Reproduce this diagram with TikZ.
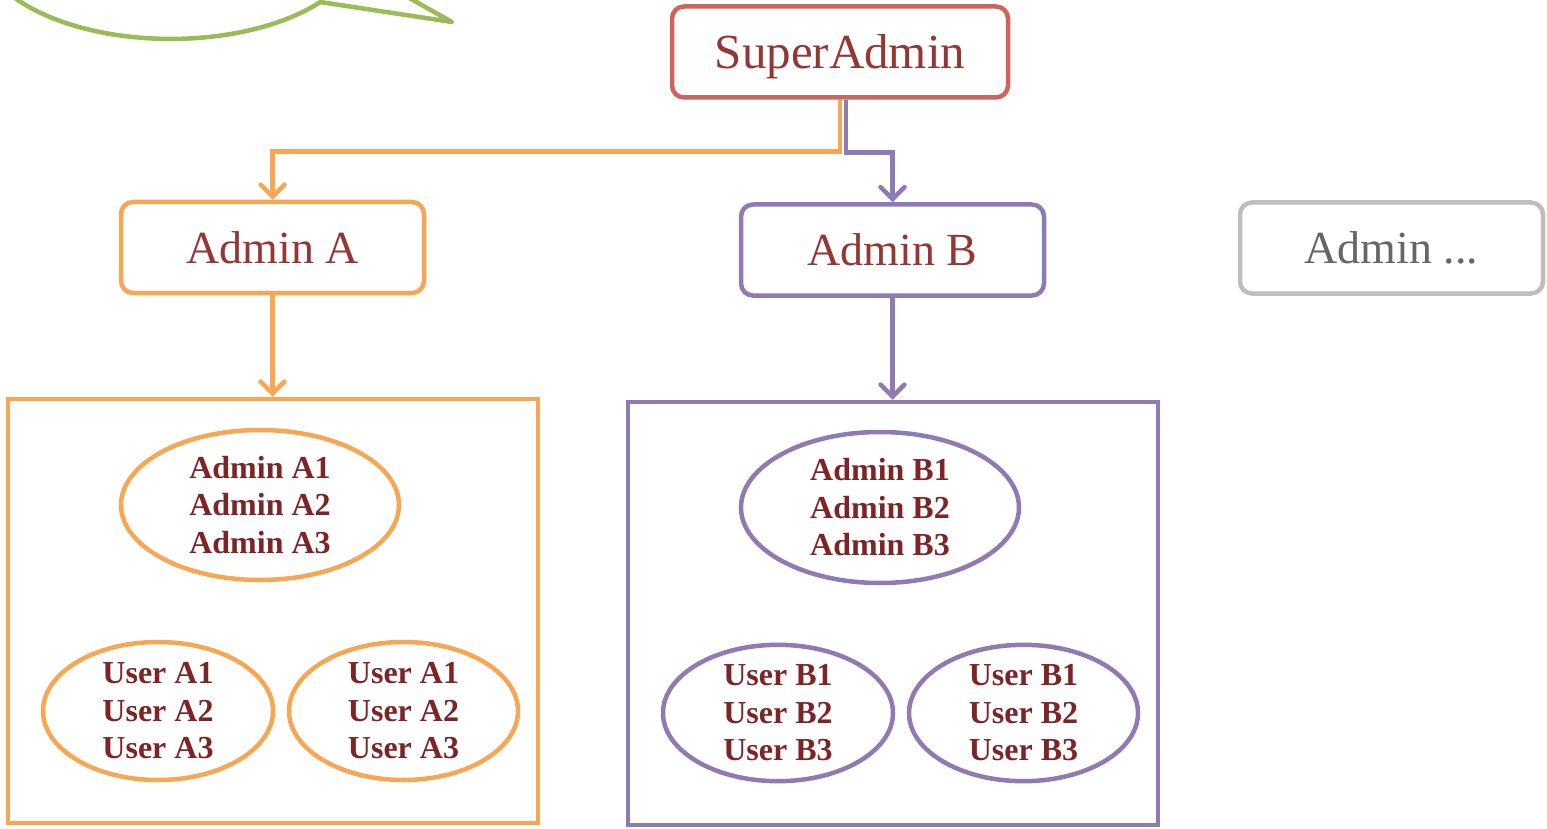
\documentclass[tikz,border=0pt]{standalone}
\usepackage{fontspec}
\setmainfont{Liberation Serif}
\usetikzlibrary{shapes.geometric,arrows.meta}
\definecolor{cgreen}{RGB}{155,187,89}
\definecolor{cred}{RGB}{205,100,95}
\definecolor{corange}{RGB}{247,166,84}
\definecolor{cpurple}{RGB}{143,122,178}
\definecolor{cgray}{RGB}{190,190,190}
\definecolor{ctext}{RGB}{148,54,52}
\definecolor{cbold}{RGB}{124,36,38}
\tikzset{
  topbox/.style={draw, rounded corners=12pt, line width=4.5pt, fill=white, minimum width=#1, minimum height=91pt, inner sep=0pt, text=ctext, font=\fontsize{46}{50}\selectfont},
  group/.style={draw, line width=4.5pt, inner sep=0pt},
  oval/.style={draw, ellipse, line width=4.5pt, inner sep=0pt, text=cbold, align=center, font=\bfseries\fontsize{32}{37.5}\selectfont},
  link/.style={line width=4.5pt, -{Straight Barb[length=12pt,width=24pt,line cap=round]}},
}
\begin{document}
\begin{tikzpicture}[x=1pt,y=-1pt]
\useasboundingbox (0,0) rectangle (1547,829);
% green speech bubble (partly outside)
\begin{scope}
\clip (0,0) rectangle (1547,829);
\draw[cgreen, line width=4.5pt, line join=round] (15,-2) arc[start angle=145, end angle=38, x radius=190, y radius=96] -- (452,22) -- (395,-10);
\end{scope}
% top boxes
\node[topbox=336pt, draw=cred, text depth=0pt, font=\fontsize{49}{54}\selectfont] (sa) at (840,52) {SuperAdmin};
\node[topbox=303pt, draw=corange] (aa) at (272.5,247.5) {Admin A};
\node[topbox=303pt, draw=cpurple] (ab) at (892.5,250) {Admin B};
\node[topbox=303pt, draw=cgray, text=black!60] (an) at (1391.5,248) {Admin ...};
% groups
\node[group, draw=corange, minimum width=530pt, minimum height=424pt] (ga) at (273,611) {};
\node[group, draw=cpurple, minimum width=530pt, minimum height=423pt] (gb) at (893,613.5) {};
% ellipses
\node[oval, draw=corange, minimum width=278pt, minimum height=150pt] (ea) at (260,505) {Admin A1\\Admin A2\\Admin A3};
\node[oval, draw=corange, minimum width=230pt, minimum height=138pt] (ua1) at (158,711) {User A1\\User A2\\User A3};
\node[oval, draw=corange, minimum width=229pt, minimum height=138pt] (ua2) at (403.5,711) {User A1\\User A2\\User A3};
\node[oval, draw=cpurple, minimum width=278pt, minimum height=151pt] (eb) at (880,507.5) {Admin B1\\Admin B2\\Admin B3};
\node[oval, draw=cpurple, minimum width=230pt, minimum height=136pt] (ub1) at (778,713) {User B1\\User B2\\User B3};
\node[oval, draw=cpurple, minimum width=229pt, minimum height=136pt] (ub2) at (1023.5,713) {User B1\\User B2\\User B3};
% connectors
\draw[link, corange] (sa.south) -- ++(0,52) -| (aa.north);
\draw[link, cpurple] ([xshift=6pt]sa.south) -- ++(0,53) -| (ab.north);
\draw[link, corange] (aa.south) -- (aa.south |- ga.north);
\draw[link, cpurple] (ab.south) -- (ab.south |- gb.north);
\end{tikzpicture}
\end{document}
